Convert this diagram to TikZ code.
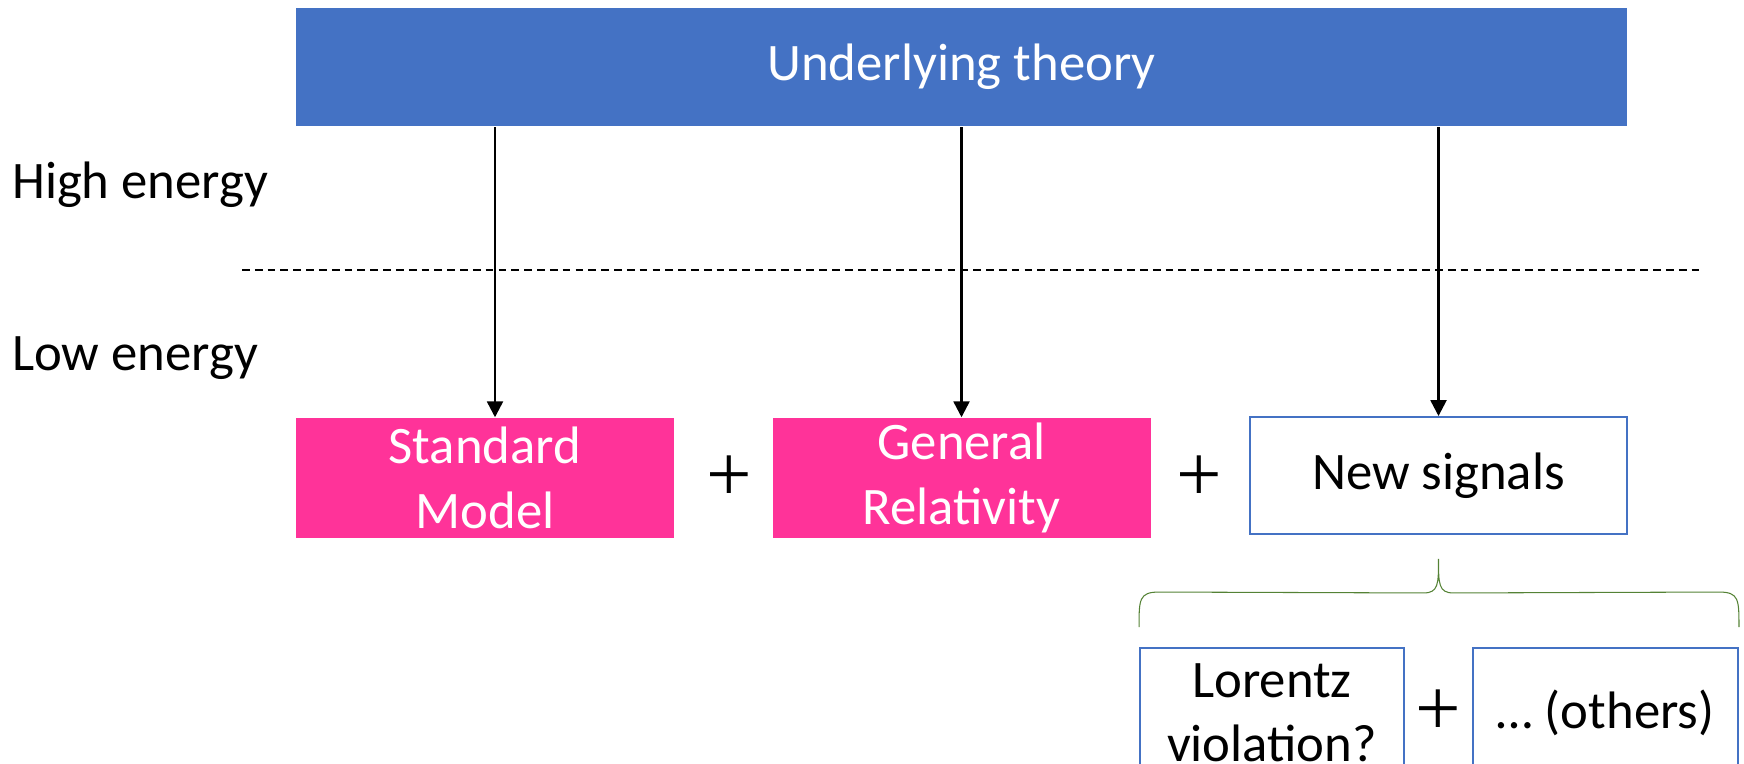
\documentclass[tikz,border=0pt]{standalone}
\usepackage{fontspec}
\setmainfont{Carlito}
\newfontfamily\plusfont{Liberation Serif}
\usetikzlibrary{arrows.meta}
\definecolor{theoryblue}{RGB}{68,114,196}
\definecolor{smpink}{RGB}{255,51,153}
\definecolor{bracegreen}{RGB}{84,130,53}

\begin{document}
\begin{tikzpicture}[>={Triangle[length=9pt,width=9pt]}, line width=1.4pt,
    every node/.style={font=\fontsize{30}{36.6}\selectfont},
    pinkbox/.style={rectangle, fill=smpink, text=white, minimum width=7.56cm, minimum height=2.38cm, align=center, inner sep=0pt},
    signalbox/.style={rectangle, draw=theoryblue, line width=1.1pt, fill=white, minimum height=2.34cm, align=center, inner sep=0pt},
    plussign/.style={font=\plusfont\fontsize{46}{54}\selectfont, inner sep=0pt}]

    \useasboundingbox (0,0) rectangle (34.88,-15.28);
    \clip (0,0) rectangle (34.88,-15.28);

    % Top box
    \node[rectangle, fill=theoryblue, text=white, minimum width=26.62cm, minimum height=2.36cm, inner sep=0pt] (T) at (19.23,-1.34) {Underlying theory};

    % Energy labels and the dashed separation
    \node[anchor=base west, inner sep=0pt] (H1) at (0.22,-3.98) {High energy};
    \node[anchor=base west, inner sep=0pt] (L1) at (0.22,-7.42) {Low energy};
    \draw[line width=1.1pt, dash pattern=on 4.4pt off 2.9pt] (4.84,-5.40) -- (34.0,-5.40);

    % Low energy boxes in one row
    \node[pinkbox] (B1) at (9.70,-9.56) {Standard\\Model};
    \node[pinkbox] (B2) at (19.23,-9.56) {General\\Relativity};
    \node[signalbox, minimum width=7.54cm] (B3) at (28.77,-9.51) {New signals};
    \node[plussign] (P1) at (14.58,-9.58) {+};
    \node[plussign] (P2) at (23.98,-9.58) {+};

    % Arrows from the underlying theory
    \draw[->] ([xshift=0.2cm]B1.north |- T.south) -- ([xshift=0.2cm]B1.north);
    \draw[->] (B2.north |- T.south) -- (B2.north);
    \draw[->] (B3.north |- T.south) -- (B3.north);

    % Bottom row, cut by the lower edge
    \node[signalbox, minimum width=5.28cm, minimum height=2.6cm] (C1) at (25.44,-14.26) {Lorentz\\violation?};
    \node[signalbox, minimum width=5.30cm, minimum height=2.6cm] (C2) at (32.11,-14.26) {… (others)};
    \node[plussign] (P3) at (28.76,-14.26) {+};

    % Brace under the new signals
    \coordinate (tip) at ([yshift=-0.48cm]B3.south);
    \coordinate (bl) at ([yshift=0.4cm]C1.north west);
    \coordinate (br) at ([yshift=0.4cm]C2.north east);
    \draw[bracegreen, line width=0.6pt]
        (bl) .. controls ([yshift=0.55cm]bl) and ([yshift=0.7cm]bl) .. ([xshift=0.4cm,yshift=0.7cm]bl)
        -- ([xshift=-0.3cm,yshift=-0.68cm]tip)
        .. controls ([yshift=-0.68cm]tip) and ([yshift=-0.5cm]tip) .. (tip)
        .. controls ([yshift=-0.5cm]tip) and ([yshift=-0.68cm]tip) .. ([xshift=0.3cm,yshift=-0.68cm]tip)
        -- ([xshift=-0.4cm,yshift=0.7cm]br)
        .. controls ([yshift=0.7cm]br) and ([yshift=0.55cm]br) .. (br);

\end{tikzpicture}
\end{document}
